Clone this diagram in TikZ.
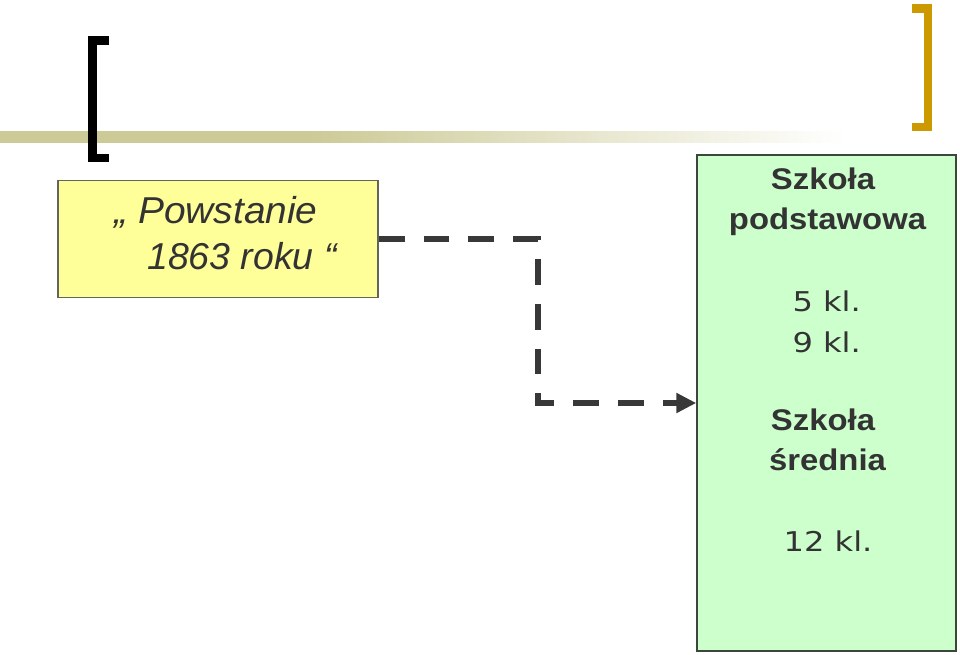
\documentclass[tikz,border=0pt]{standalone}
\usepackage{fontspec}
\setmainfont{Liberation Sans}
\newfontfamily\verdana{DejaVu Sans}
\usepackage{xcolor}
\usetikzlibrary{arrows.meta}

\definecolor{textgray}{RGB}{51,51,51}
\definecolor{linegray}{RGB}{56,56,56}
\definecolor{barolive}{RGB}{204,202,150}
\definecolor{bracketgold}{RGB}{204,153,0}
\definecolor{paleyellow}{RGB}{255,255,153}
\definecolor{palegreen}{RGB}{204,255,204}
\definecolor{yellowedge}{RGB}{100,100,90}
\definecolor{greenedge}{RGB}{60,70,60}

\pgfdeclarehorizontalshading{barfade}{100bp}{color(0bp)=(barolive); color(42bp)=(barolive); color(72bp)=(white); color(100bp)=(white)}

\newcommand{\breit}[2]{\scalebox{#1}[1]{#2}}

\begin{document}
\begin{tikzpicture}[
                x=0.02cm, y=-0.02cm,
                >={Triangle[length=11.3pt, width=10.8pt]},
                block/.style={rectangle, inner sep=0pt, line width=0.9pt},
                quote/.style={anchor=base, inner sep=0pt, text=textgray, font=\fontsize{21.3}{25}\selectfont\itshape},
                head/.style={anchor=base, inner sep=0pt, text=textgray, font=\fontsize{17}{20}\selectfont\bfseries},
                klasse/.style={anchor=base, inner sep=0pt, text=textgray, font=\verdana\fontsize{15.5}{18}\selectfont},
                pfeil/.style={draw=linegray, ->, line width=3.2pt, line join=miter, dash pattern=on 14.7pt off 10.8pt}
            ]
                \useasboundingbox (0,0) rectangle (960,654);

                % --- KOPFLEISTE ---
                \shade[shading=barfade] (0,131) rectangle (900,142);
                \draw[black, line width=5.1pt, line join=miter] (109,40.5) -- (92.5,40.5) -- (92.5,158) -- (109,158);
                \draw[bracketgold, line width=4.8pt, line join=miter] (912,8.5) -- (928,8.5) -- (928,127) -- (912,127);

                % --- KASTEN (LINKS) ---
                \node[block, draw=yellowedge, fill=paleyellow, minimum width=6.4cm, minimum height=2.34cm] (powstanie) at (218,239) {};
                \node[quote] (powstanie1) at (216,223) {\breit{1.04}{„ Powstanie}};
                \node[quote] (powstanie2) at (242,269) {1863 roku “};

                % --- KASTEN (RECHTS) ---
                \node[block, draw=greenedge, fill=palegreen, minimum width=5.18cm, minimum height=9.92cm] (szkoly) at (826.5,403) {};
                \node[head] (szkola1) at (823,189) {\breit{1.1}{Szkoła}};
                \node[head] (podst) at (827.5,229) {\breit{1.1}{podstawowa}};
                \node[klasse] (kl5) at (826.7,311.7) {\breit{1.18}{5 kl.}};
                \node[klasse] (kl9) at (826.7,352) {\breit{1.18}{9 kl.}};
                \node[head] (szkola2) at (823,430) {\breit{1.1}{Szkoła}};
                \node[head] (srednia) at (827.5,470) {\breit{1.1}{średnia}};
                \node[klasse] (kl12) at (828,551) {\breit{1.18}{12 kl.}};

                % --- VERBINDUNG ---
                \coordinate (knick) at (538,403);
                \draw[pfeil] (powstanie.east) -| (knick) -- (szkoly.west);

            \end{tikzpicture}
\end{document}
